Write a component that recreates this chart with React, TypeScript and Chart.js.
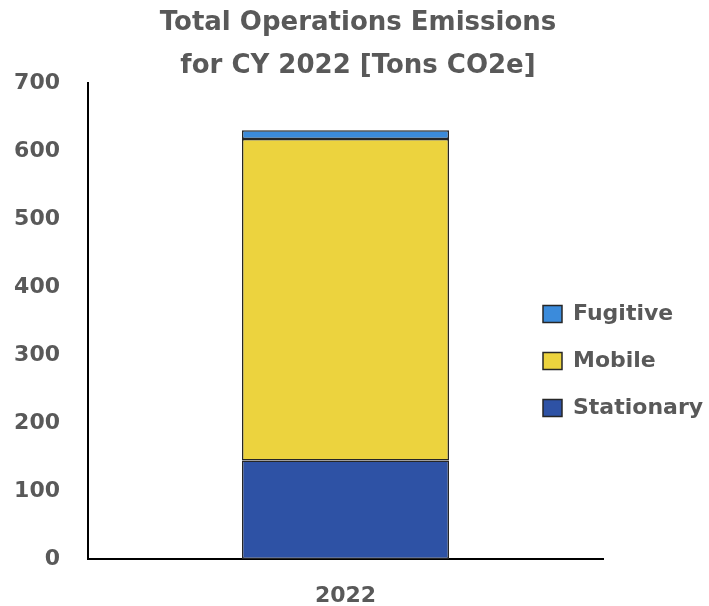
import React, { useEffect, useRef } from "react";
import { Chart, registerables } from "chart.js";

Chart.register(...registerables);

const categories = ["2022"];
const stationary = [145];
const mobile = [473];
const fugitive = [13];
const yTicks = [0, 100, 200, 300, 400, 500, 600, 700];

const GRAY = "#595959";
const FONT = "'DejaVu Sans', sans-serif";

const layoutTweak = {
  id: "layoutTweak",
  afterLayout(chart: any) {
    const l = chart.legend;
    if (l) {
      const w = l.width;
      const h = l.height;
      l.left = 518;
      l.right = 518 + w;
      l.top = 278;
      l.bottom = 278 + h;
    }
    (chart.boxes || []).forEach((b: any) => {
      if (b !== l && b.options && typeof b.options.text === "string" && !b.axis) {
        b.left = 7;
        b.right = 709;
        b.width = 702;
      }
    });
  },
};

export default function App() {
  const ref = useRef<HTMLCanvasElement | null>(null);
  useEffect(() => {
    if (!ref.current) return;
    const chart = new Chart(ref.current, {
      type: "bar",
      data: {
        labels: categories,
        datasets: [
          { label: "Stationary", data: stationary, backgroundColor: "#2E52A5", borderColor: "#262626", borderWidth: 1.5, borderSkipped: false },
          { label: "Mobile", data: mobile, backgroundColor: "#ECD33E", borderColor: "#262626", borderWidth: 1.5, borderSkipped: false },
          { label: "Fugitive", data: fugitive, backgroundColor: "#3B8BDB", borderColor: "#262626", borderWidth: 1.5, borderSkipped: false },
        ],
      },
      plugins: [layoutTweak],
      options: {
        animation: false,
        responsive: true,
        maintainAspectRatio: false,
        layout: { padding: { left: 0, right: 106, top: 0, bottom: 0 } },
        datasets: { bar: { categoryPercentage: 1, barPercentage: 0.402 } },
        scales: {
          x: {
            stacked: true,
            offset: true,
            grid: { display: false, drawTicks: false },
            border: { display: true, color: "#000", width: 2 },
            ticks: { color: GRAY, font: { family: FONT, size: 22, weight: "bold" }, padding: 24 },
            afterFit: (s: any) => { s.height = 47; },
          },
          y: {
            stacked: true,
            min: 0,
            max: 700,
            afterBuildTicks: (s: any) => { s.ticks = yTicks.map((v) => ({ value: v })); },
            grid: { display: false, drawTicks: false },
            border: { display: true, color: "#000", width: 2 },
            ticks: { color: GRAY, font: { family: FONT, size: 22, weight: "bold" }, padding: 28 },
            afterFit: (s: any) => { s.width = 88; },
          },
        },
        plugins: {
          title: {
            display: true,
            text: "Total Operations Emissions",
            color: GRAY,
            font: { family: FONT, size: 26, weight: "bold", lineHeight: 1.2 },
            padding: { top: 7.5, bottom: 0 },
          },
          subtitle: {
            display: true,
            text: "for CY 2022 [Tons CO2e]",
            color: GRAY,
            font: { family: FONT, size: 26, weight: "bold", lineHeight: 1.2 },
            padding: { top: 12, bottom: 1.5 },
          },
          legend: {
            position: "chartArea",
            align: "start",
            reverse: true,
            labels: {
              color: GRAY,
              font: { family: FONT, size: 22, weight: "bold" },
              boxWidth: 19,
              boxHeight: 17,
              padding: 25,
            },
          },
          tooltip: { enabled: false },
        },
      },
    });
    return () => chart.destroy();
  }, []);
  return (
    <div style={{ position: "fixed", left: 0, top: 0, width: 709, height: 606, background: "#fff" }}>
      <canvas ref={ref} />
    </div>
  );
}
